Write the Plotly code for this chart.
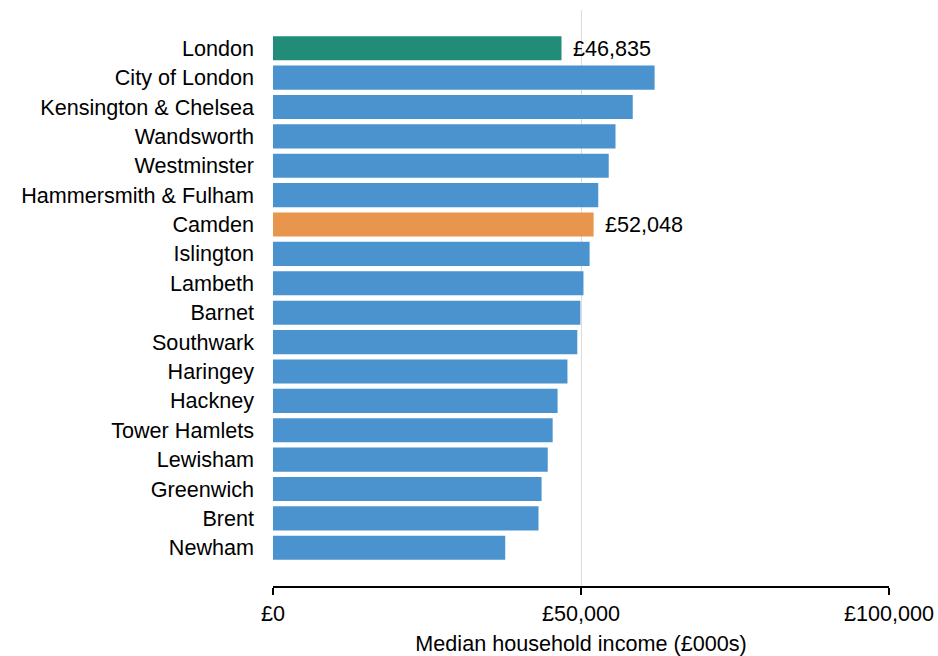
import plotly.graph_objects as go

# Median household income by area
areas = [
    "London", "City of London", "Kensington & Chelsea", "Wandsworth", "Westminster",
    "Hammersmith & Fulham", "Camden", "Islington", "Lambeth", "Barnet", "Southwark",
    "Haringey", "Hackney", "Tower Hamlets", "Lewisham", "Greenwich", "Brent", "Newham",
]
income = [
    46835, 61950, 58400, 55600, 54500,
    52800, 52048, 51400, 50400, 49900, 49400,
    47800, 46200, 45400, 44600, 43600, 43100, 37700,
]
labelled = ["London", "Camden"]

BLUE = "#4a93ce"
TEAL = "#218c78"
ORANGE = "#e8964e"
colour_for = {"London": TEAL, "Camden": ORANGE}
colours = [colour_for.get(a, BLUE) for a in areas]

FONT = "Liberation Sans, Arial, sans-serif"
SIZE = 21.6

fig = go.Figure(
    go.Bar(
        x=income,
        y=areas,
        orientation="h",
        marker=dict(color=colours, line=dict(width=0)),
        width=0.82,
        hoverinfo="x+y",
    )
)

for a, v in zip(areas, income):
    if a in labelled:
        fig.add_annotation(
            x=v, y=a, text=f"£{v:,}", showarrow=False,
            xanchor="left", xshift=9, yanchor="middle",
            font=dict(family=FONT, size=SIZE, color="#000"),
        )

fig.update_layout(
    width=938, height=656,
    margin=dict(l=273, r=49, t=10, b=70),
    plot_bgcolor="white", paper_bgcolor="white",
    font=dict(family=FONT, size=SIZE, color="#000"),
    showlegend=False,
)
fig.update_xaxes(
    range=[0, 100000],
    tickvals=[0, 50000, 100000],
    ticktext=["£0", "£50,000", "£100,000"],
    showgrid=True, gridcolor="#dcdcdc", gridwidth=1,
    zeroline=False, automargin=False,
    showline=True, linecolor="#000", linewidth=2,
    ticks="outside", ticklen=7, tickwidth=2, tickcolor="#000",
    title=dict(text="Median household income (£000s)", standoff=12,
               font=dict(family=FONT, size=SIZE)),
    tickfont=dict(family=FONT, size=SIZE),
)
fig.update_yaxes(
    categoryorder="array", categoryarray=areas,
    autorange=False, range=[len(areas) - 1 + 1.3, -1.3],
    showgrid=False, zeroline=False, showline=False, automargin=False,
    ticks="", ticklabelstandoff=18,
    tickfont=dict(family=FONT, size=SIZE),
)

fig.write_html("out.html")
